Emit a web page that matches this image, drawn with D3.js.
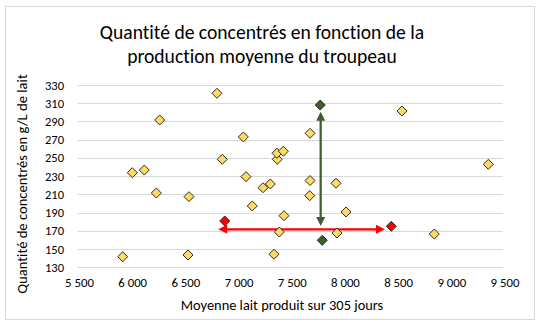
<!DOCTYPE html>
<html>
<head>
<meta charset="utf-8">
<script src="https://cdn.jsdelivr.net/npm/d3@7"></script>
<style>
  html, body { margin: 0; padding: 0; background: #fff; }
  svg { display: block; }
  text { font-family: Carlito, Calibri, Lato, "Liberation Sans", sans-serif; fill: #000;
         font-variant-ligatures: none; font-feature-settings: "liga" 0, "dlig" 0; }
</style>
</head>
<body>
<svg id="chart" width="541" height="330"></svg>
<script>
// ---- Data ----
const titleLines = ["Quantité de concentrés en fonction de la", "production moyenne du troupeau"];
const xTitle = "Moyenne lait produit sur 305 jours";
const yTitle = "Quantité de concentrés en g/L de lait";
const xTicks = [5500, 6000, 6500, 7000, 7500, 8000, 8500, 9000, 9500];
const yTicks = [130, 150, 170, 190, 210, 230, 250, 270, 290, 310, 330];

// Herds (milk per 305 days, concentrates g/L)
const milk = [5925, 6015, 6128, 6241, 6273, 6539, 6548, 6811, 6861, 7059, 7084, 7143, 7244, 7312, 7347,
              7378, 7375, 7435, 7441, 7397, 7686, 7686, 7683, 7930, 7939, 8024, 8550, 8854, 9362];
const conc = [141.6, 233.8, 236.7, 211.5, 291.6, 143.5, 207.5, 320.9, 248.5, 273, 229.4, 197.3, 217.3, 221.4, 144.3,
              248.5, 255.1, 257.3, 186.6, 168.7, 277, 225.2, 208.6, 222.2, 167.6, 190.7, 301.5, 166.5, 243];
// Highlighted herds
const redMilk = [6884, 8450];
const redConc = [180.8, 175];
const greenMilk = [7782, 7801];
const greenConc = [308, 159.6];
// Double arrows: [x1, y1, x2, y2] in data units
const redArrow = [6823, 171.7, 8391, 171.7];
const greenArrow = [7786, 300.7, 7786, 175.3];

// ---- Chart ----
const FONT = "Carlito, Calibri, Lato, 'Liberation Sans', sans-serif";
const svg = d3.select("#chart");
const x = d3.scaleLinear().domain([5500, 9500]).range([77.5, 503]);
const y = d3.scaleLinear().domain([130, 330]).range([267.3, 85]);

// chart border
svg.append("rect").attr("x", 5.5).attr("y", 6.5).attr("width", 529).attr("height", 313)
  .attr("fill", "#fff").attr("stroke", "#D9D9D9").attr("stroke-width", 1);

// title
svg.append("text").attr("x", 262).attr("text-anchor", "middle").attr("font-size", 19.6)
  .selectAll("tspan").data(titleLines).join("tspan")
  .attr("x", 262).attr("y", (d, i) => 39 + i * 23.5).text(d => d);

// gridlines
svg.append("g").selectAll("line").data(yTicks).join("line")
  .attr("x1", x.range()[0]).attr("x2", x.range()[1])
  .attr("y1", d => Math.round(y(d)) + 0.5).attr("y2", d => Math.round(y(d)) + 0.5)
  .attr("stroke", "#D9D9D9").attr("stroke-width", 1);

// y axis labels
const yAxis = d3.axisLeft(y).tickValues(yTicks).tickSize(0).tickPadding(0).tickFormat(d3.format("d"));
const gy = svg.append("g").attr("transform", "translate(64,0)").call(yAxis);
gy.select(".domain").remove();
gy.selectAll("text").attr("font-size", 12.5).attr("fill", "#000").attr("font-family", FONT);

// x axis labels
const fmt = v => d3.format(",")(v).replace(/,/g, " ");
const xAxis = d3.axisBottom(x).tickValues(xTicks).tickSize(0).tickPadding(0).tickFormat(fmt);
const gx = svg.append("g").attr("transform", "translate(1.5,278)").call(xAxis);
gx.select(".domain").remove();
gx.selectAll("text").attr("font-size", 12.8).attr("fill", "#000").attr("font-family", FONT);

// axis titles
svg.append("text").attr("x", 282).attr("y", 309.5).attr("text-anchor", "middle")
  .attr("font-size", 14.4).text(xTitle);
svg.append("text").attr("transform", "translate(26.5,184) rotate(-90)").attr("text-anchor", "middle")
  .attr("font-size", 14.6).text(yTitle);

// double arrows
function doubleArrow(a, color) {
  const x1 = x(a[0]), y1 = y(a[1]), x2 = x(a[2]), y2 = y(a[3]);
  const g = svg.append("g");
  const len = Math.hypot(x2 - x1, y2 - y1);
  const ux = (x2 - x1) / len, uy = (y2 - y1) / len;
  const hl = 9, hw = 4.5;
  g.append("line")
    .attr("x1", x1 + ux * hl * 0.8).attr("y1", y1 + uy * hl * 0.8)
    .attr("x2", x2 - ux * hl * 0.8).attr("y2", y2 - uy * hl * 0.8)
    .attr("stroke", color).attr("stroke-width", 2.25);
  const head = (tx, ty, dx, dy) => {
    const bx = tx - dx * hl, by = ty - dy * hl;
    return `M${tx},${ty}L${bx - dy * hw},${by + dx * hw}L${bx + dy * hw},${by - dx * hw}Z`;
  };
  g.append("path").attr("d", head(x2, y2, ux, uy)).attr("fill", color);
  g.append("path").attr("d", head(x1, y1, -ux, -uy)).attr("fill", color);
}
doubleArrow(greenArrow, "#3F5E2A");
doubleArrow(redArrow, "#FF0000");

// markers
const diamond = d3.symbol().type(d3.symbolSquare).size(50);
function drawPoints(xs, ys, fill) {
  svg.append("g").selectAll("path").data(xs.map((v, i) => [v, ys[i]])).join("path")
    .attr("d", diamond)
    .attr("transform", d => `translate(${x(d[0])},${y(d[1])}) rotate(45)`)
    .attr("fill", fill).attr("stroke", "#222").attr("stroke-width", 0.9);
}
drawPoints(milk, conc, "#FFD966");
drawPoints(redMilk, redConc, "#FF0000");
drawPoints(greenMilk, greenConc, "#3F5E2A");
</script>
</body>
</html>
